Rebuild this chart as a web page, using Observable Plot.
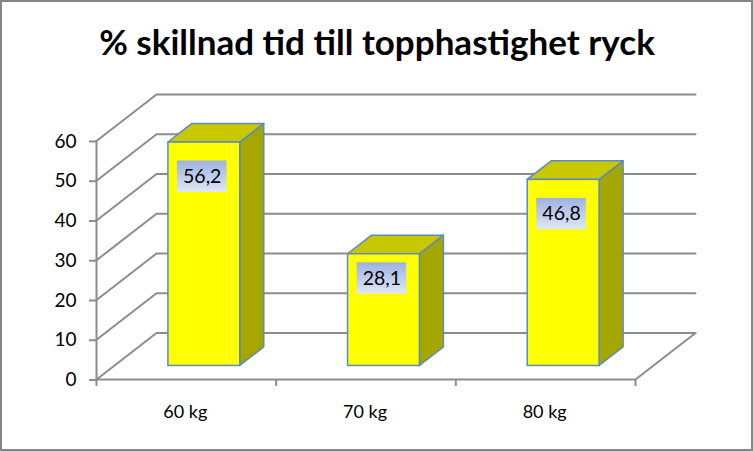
<!DOCTYPE html>
<html>
<head>
<meta charset="utf-8">
<script src="https://cdn.jsdelivr.net/npm/d3@7"></script>
<script src="https://cdn.jsdelivr.net/npm/@observablehq/plot@0.6"></script>
<style>
  html, body { margin: 0; padding: 0; background: #fff; }
  #chart { position: relative; width: 753px; height: 451px; overflow: hidden; font-family: Lato, sans-serif; }
  #chart::after { content: ""; position: absolute; inset: 0; border: 2.5px solid #868686; box-sizing: border-box; pointer-events: none; }
  #title { height: 78px; line-height: 83px; text-align: center; font-size: 35px; font-weight: 700; color: #000; padding-left: 1px; white-space: nowrap; }
  svg { display: block; }
</style>
</head>
<body>
<div id="chart"><div id="title"></div></div>
<script>
const titleText = "% skillnad tid till topphastighet ryck";
const categories = ["60 kg", "70 kg", "80 kg"];
const values = [56.2, 28.1, 46.8];
const yTicks = [0, 10, 20, 30, 40, 50, 60];
const valueLabels = ["56,2", "28,1", "46,8"];

// Oblique 3-D projection, in units of the two scales
const depthX = 0.334, depthY = 11.68;
const yMax = 60;
const barWidth = 0.4;
const barDepth = [0.3, 0.7];
const px = (c, d) => c + d * depthX;
const py = (v, d) => v + d * depthY;

const bars = values.map((v, i) => {
  const x0 = px(i + 0.5 - barWidth / 2, barDepth[0]);
  const x1 = px(i + 0.5 + barWidth / 2, barDepth[0]);
  return {i, v, x0, x1, y0: py(0, barDepth[0]) - 0.1, y1: py(v, barDepth[0]) - 0.1};
});
const dd = barDepth[1] - barDepth[0];
const sides = bars.flatMap(b => [
  {i: b.i, x: b.x1, y1: b.y0, y2: b.y1},
  {i: b.i, x: b.x1 + dd * depthX, y1: b.y0 + dd * depthY, y2: b.y1 + dd * depthY}
]);
const tops = bars.flatMap(b => [
  {i: b.i, x1: b.x0, x2: b.x1, y: b.y1},
  {i: b.i, x1: b.x0 + dd * depthX, x2: b.x1 + dd * depthX, y: b.y1 + dd * depthY}
]);

const labelDrop = [8.6, 6.1, 8.6];
const labels = bars.map((b, i) => ({
  text: valueLabels[i],
  x: (b.x0 + b.x1) / 2 - 0.012,
  y: b.y1 - labelDrop[i]
}));

const wallLines = yTicks.flatMap(t => [
  {t, x: px(0, 0), y: py(t, 0)},
  {t, x: px(0, 1), y: py(t, 1)},
  {t, x: px(3, 1), y: py(t, 1)}
]);
const floorFront = [{x: 0, y: 0}, {x: 3, y: 0}, {x: px(3, 1), y: py(0, 1)}];
const axisLine = [{x: 0, y: 0}, {x: 0, y: yMax}];

const grey = "#8c8c8c", edge = "#5b8ac4";

const gradient = () => {
  const defs = d3.create("svg:defs");
  const g = defs.append("linearGradient").attr("id", "labelFill").attr("x1", 0).attr("y1", 0).attr("x2", 0).attr("y2", 1);
  g.append("stop").attr("offset", "0%").attr("stop-color", "#9db2e2");
  g.append("stop").attr("offset", "100%").attr("stop-color", "#e0e7f6");
  return defs.node();
};

const plot = Plot.plot({
  width: 753,
  height: 373,
  marginLeft: 96,
  marginRight: 58,
  marginTop: 16,
  marginBottom: 72,
  style: {background: "transparent", fontFamily: "Lato, sans-serif", color: "#000"},
  x: {domain: [0, px(3, 1)], range: [96, 695]},
  y: {domain: [0, py(yMax, 1)]},
  marks: [
    gradient,
    Plot.line(wallLines, {x: "x", y: "y", z: "t", stroke: grey, strokeWidth: 2, curve: "linear"}),
    Plot.line(floorFront, {x: "x", y: "y", stroke: grey, strokeWidth: 2}),
    Plot.line(axisLine, {x: "x", y: "y", stroke: grey, strokeWidth: 2}),
    Plot.axisY({ticks: yTicks, anchor: "left", label: null, tickSize: 7, tickPadding: 13, dy: 0.5, stroke: grey, strokeWidth: 2, fill: "#000", fontSize: 19}),
    Plot.axisX({ticks: [0, 1, 2, 3], anchor: "bottom", label: null, tickSize: 7, tickFormat: () => "", stroke: grey, strokeWidth: 2}),
    Plot.axisX({ticks: [0.5, 1.5, 2.5], anchor: "bottom", label: null, tickSize: 0, tickPadding: 26, dx: -1, tickFormat: d => categories[Math.floor(d)], fill: "#000", fontSize: 18}),
    Plot.area(sides, {x1: "x", y1: "y1", y2: "y2", z: "i", fill: "#a6a600", stroke: edge, strokeWidth: 1.5, curve: "linear"}),
    Plot.area(tops, {x1: "x1", x2: "x2", y1: "y", z: "i", fill: "#c8c800", stroke: edge, strokeWidth: 1.5, curve: "linear"}),
    Plot.rect(bars, {x1: "x0", x2: "x1", y1: "y0", y2: "y1", fill: "#ffff00", stroke: edge, strokeWidth: 1.5}),
    Plot.rect(labels, {x1: d => d.x - 0.138, x2: d => d.x + 0.138, y1: d => d.y - 3.95, y2: d => d.y + 3.95, fill: "url(#labelFill)"}),
    Plot.text(labels, {x: "x", y: "y", text: "text", fontSize: 19.5, fill: "#000"})
  ]
});
document.getElementById("title").textContent = titleText;
document.getElementById("chart").appendChild(plot);
</script>
</body>
</html>
